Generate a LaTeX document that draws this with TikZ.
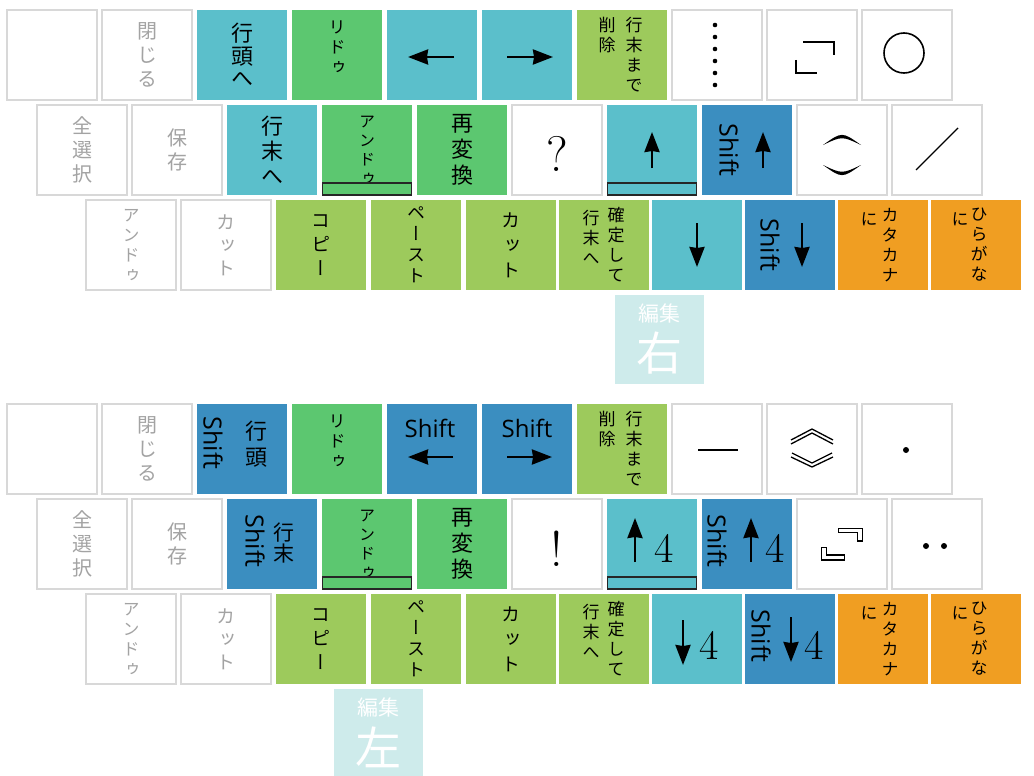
\documentclass[tikz,border=0pt]{standalone}
\usepackage{fontspec}
\newfontfamily\jp[RawFeature=+vert]{Noto Sans CJK JP}
\newfontfamily\jpflat{Noto Sans CJK JP}
\newfontfamily\shiftfont{Open Sans}
\usetikzlibrary{arrows.meta,positioning,calc}

\definecolor{keyteal}{HTML}{5BBFCB}
\definecolor{keygreen}{HTML}{5CC770}
\definecolor{keylime}{HTML}{9DCA5C}
\definecolor{keyblue}{HTML}{3B8EC0}
\definecolor{keyorange}{HTML}{F09E22}
\definecolor{keyedge}{HTML}{D8D8D8}
\definecolor{keygray}{HTML}{A3A3A3}
\definecolor{modecol}{HTML}{CEEBEB}

\begin{document}
\begin{tikzpicture}[x=1pt,y=-1pt,node distance=5pt,
  key/.style={rectangle,minimum width=90pt,minimum height=90pt,inner sep=0pt,outer sep=0pt,
              align=center,text=black,font=\jp\fontsize{22}{24}\selectfont},
  wkey/.style={key,draw=keyedge,line width=1.4pt,fill=white,text=keygray,
               font=\jp\fontsize{20}{24}\selectfont},
  tkey/.style={key,fill=keyteal},
  gkey/.style={key,fill=keygreen},
  ykey/.style={key,fill=keylime},
  bkey/.style={key,fill=keyblue},
  okey/.style={key,fill=keyorange},
  keybar/.style={rectangle,draw=black!85,line width=1.1pt,minimum width=89pt,minimum height=12pt,
                 inner sep=0pt,outer sep=0pt,anchor=south},
  kana/.style={inner sep=0pt,align=center,text=black,font=\jp\fontsize{17}{20}\selectfont},
  smallkana/.style={kana,font=\jp\fontsize{17}{20}\selectfont},
  shifttext/.style={inner sep=0pt,text=black,font=\shiftfont\fontsize{24}{24}\selectfont},
  shiftup/.style={shifttext,rotate=-90,font=\shiftfont\fontsize{25}{25}\selectfont},
  glyph/.style={inner sep=0pt,text=black,font=\fontsize{50}{50}\selectfont},
  digit/.style={inner sep=0pt,text=black,font=\fontsize{42}{42}\selectfont},
  keyarrow/.style={line width=2.6pt,-{Stealth[length=20pt,width=15pt,inset=1pt]}},
  symline/.style={line width=1.8pt},
  modebox/.style={rectangle,fill=modecol,minimum width=89pt,minimum height=89pt,inner sep=0pt},
  modetext/.style={inner sep=0pt,text=white,font=\jpflat\fontsize{21}{21}\selectfont},
  modebig/.style={inner sep=0pt,text=white,font=\jpflat\fontsize{46}{46}\selectfont}
]
\useasboundingbox (0,0) rectangle (1034,776);

% ===== EDIT MODE: RIGHT =====
% row 1
\node[wkey] (r1a) at (52,55) {};
\node[wkey,right=of r1a] (r1b) {閉\\じ\\る};
\node[tkey,right=of r1b,font=\jp\fontsize{22}{22.5}\selectfont] (r1c) {行\\頭\\へ};
\node[gkey,right=of r1c] (r1d) {};
\node[tkey,right=of r1d] (r1e) {};
\node[tkey,right=of r1e] (r1f) {};
\node[ykey,right=of r1f] (r1g) {};
\node[wkey,right=of r1g] (r1h) {};
\node[wkey,right=of r1h] (r1i) {};
\node[wkey,right=of r1i] (r1j) {};

\node[smallkana] (r1dt) at ($(r1d.center)+(0,-8)$) {リ\\ド\\ゥ};
\draw[keyarrow] ($(r1e.center)+(22,2)$) -- ($(r1e.center)+(-24,2)$);
\draw[keyarrow] ($(r1f.center)+(-20,2)$) -- ($(r1f.center)+(26,2)$);
\node[kana,anchor=north] (r1g1) at ($(r1g.north)+(12,7)$) {行\\末\\ま\\で};
\node[kana,anchor=north] (r1g2) at ($(r1g.north)+(-15,7)$) {削\\除};
\foreach \k in {0,...,5}
  \fill ($(r1h.center)+(-2,-30+12*\k)$) circle (2.3pt);
\begin{scope}[shift={(r1i.center)}]
  \draw[symline] (-9,-13) -- (22,-13) -- (22,0);
  \draw[symline] (-16,5) -- (-16,18) -- (5,18);
\end{scope}
\draw[line width=1.6pt] ($(r1j.center)+(-3,-2)$) circle (20pt);

% row 2
\node[wkey] (r2a) at (82,150) {全\\選\\択};
\node[wkey,right=of r2a] (r2b) {保\\存};
\node[tkey,right=of r2b,font=\jp\fontsize{22}{25}\selectfont] (r2c) {行\\末\\へ};
\node[gkey,right=of r2c,font=\jp\fontsize{16}{19}\selectfont] (r2d) {ア\\ン\\ド\\ゥ};
\node[gkey,right=of r2d,font=\jp\fontsize{22}{26}\selectfont] (r2e) {再\\変\\換};
\node[wkey,right=of r2e] (r2f) {};
\node[tkey,right=of r2f] (r2g) {};
\node[bkey,right=of r2g] (r2h) {};
\node[wkey,right=of r2h] (r2i) {};
\node[wkey,right=of r2i] (r2j) {};

\node[keybar] (r2dbar) at (r2d.south) {};
\node[keybar] (r2gbar) at (r2g.south) {};
\node[glyph] (r2fq) at ($(r2f.center)+(0,4)$) {?};
\draw[keyarrow] ($(r2g.center)+(0,18)$) -- ($(r2g.center)+(0,-18)$);
\node[shiftup] (r2hs) at ($(r2h.center)+(-18,0)$) {Shift};
\draw[keyarrow] ($(r2h.center)+(16,18)$) -- ($(r2h.center)+(16,-18)$);
\begin{scope}[shift={(r2i.center)}]
  \fill (-19,-5) .. controls (0,-18.5) .. (19,-5) .. controls (0,-14) .. (-19,-5) -- cycle;
  \fill (-19,15) .. controls (0,28.5) .. (19,15) .. controls (0,24) .. (-19,15) -- cycle;
\end{scope}
\draw[line width=1.4pt] ($(r2j.center)+(-21,20)$) -- ($(r2j.center)+(21,-22)$);

% row 3
\node[wkey,font=\jp\fontsize{17}{20}\selectfont] (r3a) at (131,245) {ア\\ン\\ド\\ゥ};
\node[wkey,right=of r3a,font=\jp\fontsize{19}{23}\selectfont] (r3b) {カ\\ッ\\ト};
\node[ykey,right=of r3b,font=\jp\fontsize{19}{24}\selectfont] (r3c) {コ\\ピ\\ー};
\node[ykey,right=of r3c,font=\jp\fontsize{18}{21}\selectfont] (r3d) {ペ\\ー\\ス\\ト};
\node[ykey,right=of r3d,font=\jp\fontsize{19}{25}\selectfont] (r3e) {カ\\ッ\\ト};
\node[ykey,right=3pt of r3e] (r3f) {};
\node[tkey,right=3pt of r3f] (r3g) {};
\node[bkey,right=3pt of r3g] (r3h) {};
\node[okey,right=3pt of r3h] (r3i) {};
\node[okey,right=3pt of r3i] (r3j) {};

\node[kana,anchor=north] (r3f1) at ($(r3f.north)+(12,7)$) {確\\定\\し\\て};
\node[kana,anchor=north] (r3f2) at ($(r3f.north)+(-13,10)$) {行\\末\\へ};
\draw[keyarrow] ($(r3g.center)+(0,-22)$) -- ($(r3g.center)+(0,22)$);
\node[shiftup] (r3hs) at ($(r3h.center)+(-20,0)$) {Shift};
\draw[keyarrow] ($(r3h.center)+(12,-22)$) -- ($(r3h.center)+(12,22)$);
\node[kana,anchor=north] (r3i1) at ($(r3i.north)+(7,8)$) {カ\\タ\\カ\\ナ};
\node[kana,anchor=north] (r3i2) at ($(r3i.north)+(-14,12)$) {に};
\node[kana,anchor=north] (r3j1) at ($(r3j.north)+(3,8)$) {ひ\\ら\\が\\な};
\node[kana,anchor=north] (r3j2) at ($(r3j.north)+(-16,12)$) {に};

\node[modebox] (rmode) at (659,339.5) {};
\node[modetext] (rmode1) at ($(rmode.center)+(0,-26)$) {編集};
\node[modebig] (rmode2) at ($(rmode.center)+(0,14)$) {右};

% ===== EDIT MODE: LEFT =====
% row 1
\node[wkey] (l1a) at (52,449) {};
\node[wkey,right=of l1a] (l1b) {閉\\じ\\る};
\node[bkey,right=of l1b] (l1c) {};
\node[gkey,right=of l1c] (l1d) {};
\node[bkey,right=of l1d] (l1e) {};
\node[bkey,right=of l1e] (l1f) {};
\node[ykey,right=of l1f] (l1g) {};
\node[wkey,right=of l1g] (l1h) {};
\node[wkey,right=of l1h] (l1i) {};
\node[wkey,right=of l1i] (l1j) {};

\node[shiftup] (l1cs) at ($(l1c.center)+(-29,-6)$) {Shift};
\node[kana,font=\jp\fontsize{22}{26}\selectfont] (l1ct) at ($(l1c.center)+(14,-5)$) {行\\頭};
\node[smallkana] (l1dt) at ($(l1d.center)+(0,-8)$) {リ\\ド\\ゥ};
\node[shifttext] (l1es) at ($(l1e.center)+(-2,-21)$) {Shift};
\draw[keyarrow] ($(l1e.center)+(21,8)$) -- ($(l1e.center)+(-24,8)$);
\node[shifttext] (l1fs) at ($(l1f.center)+(0,-21)$) {Shift};
\draw[keyarrow] ($(l1f.center)+(-20,8)$) -- ($(l1f.center)+(25,8)$);
\node[kana,anchor=north] (l1g1) at ($(l1g.north)+(12,7)$) {行\\末\\ま\\で};
\node[kana,anchor=north] (l1g2) at ($(l1g.north)+(-15,7)$) {削\\除};
\draw[symline] ($(l1h.center)+(-19,1)$) -- ($(l1h.center)+(21,1)$);
\begin{scope}[shift={(l1i.center)},line width=1.3pt]
  \draw (-21,-9) -- (0,-20) -- (21,-9);
  \draw (-21,-5) -- (0,-16) -- (21,-5);
  \draw (-20,4) -- (0,14) -- (20,4);
  \draw (-21,8) -- (0,18) -- (21,8);
\end{scope}
\fill ($(l1j.center)+(-1,1)$) circle (3pt);

% row 2
\node[wkey] (l2a) at (82,544) {全\\選\\択};
\node[wkey,right=of l2a] (l2b) {保\\存};
\node[bkey,right=of l2b] (l2c) {};
\node[gkey,right=of l2c,font=\jp\fontsize{16}{19}\selectfont] (l2d) {ア\\ン\\ド\\ゥ};
\node[gkey,right=of l2d,font=\jp\fontsize{22}{26}\selectfont] (l2e) {再\\変\\換};
\node[wkey,right=of l2e] (l2f) {};
\node[tkey,right=of l2f] (l2g) {};
\node[bkey,right=of l2g] (l2h) {};
\node[wkey,right=of l2h] (l2i) {};
\node[wkey,right=of l2i] (l2j) {};

\node[keybar] (l2dbar) at (l2d.south) {};
\node[keybar] (l2gbar) at (l2g.south) {};
\node[shiftup] (l2cs) at ($(l2c.center)+(-17,-3)$) {Shift};
\node[kana,font=\jp\fontsize{21}{21}\selectfont] (l2ct) at ($(l2c.center)+(12,-1)$) {行\\末};
\node[glyph] (l2fx) at ($(l2f.center)+(0,5)$) {!};
\draw[keyarrow] ($(l2g.center)+(-17,18)$) -- ($(l2g.center)+(-17,-26)$);
\node[digit] (l2g4) at ($(l2g.center)+(12,4.5)$) {4};
\node[shiftup] (l2hs) at ($(l2h.center)+(-30,-3)$) {Shift};
\draw[keyarrow] ($(l2h.center)+(4,18)$) -- ($(l2h.center)+(4,-26)$);
\node[digit] (l2h4) at ($(l2h.center)+(28,4.5)$) {4};
\begin{scope}[shift={(l2i.center)},line width=1.3pt]
  \draw (-3.3,-15.7) -- (20.3,-15.7) -- (20.3,-3) -- (15.3,-3) -- (15.3,-11.7) -- (-3.3,-11.7) -- cycle;
  \draw (-20.7,3.7) -- (-15.7,3.7) -- (-15.7,11) -- (2.7,11) -- (2.7,16) -- (-20.7,16) -- cycle;
\end{scope}
\fill ($(l2j.center)+(-11,2)$) circle (3pt);
\fill ($(l2j.center)+(7,2)$) circle (3pt);

% row 3
\node[wkey,font=\jp\fontsize{17}{20}\selectfont] (l3a) at (131,639) {ア\\ン\\ド\\ゥ};
\node[wkey,right=of l3a,font=\jp\fontsize{19}{23}\selectfont] (l3b) {カ\\ッ\\ト};
\node[ykey,right=of l3b,font=\jp\fontsize{19}{24}\selectfont] (l3c) {コ\\ピ\\ー};
\node[ykey,right=of l3c,font=\jp\fontsize{18}{21}\selectfont] (l3d) {ペ\\ー\\ス\\ト};
\node[ykey,right=of l3d,font=\jp\fontsize{19}{25}\selectfont] (l3e) {カ\\ッ\\ト};
\node[ykey,right=3pt of l3e] (l3f) {};
\node[tkey,right=3pt of l3f] (l3g) {};
\node[bkey,right=3pt of l3g] (l3h) {};
\node[okey,right=3pt of l3h] (l3i) {};
\node[okey,right=3pt of l3i] (l3j) {};

\node[kana,anchor=north] (l3f1) at ($(l3f.north)+(12,7)$) {確\\定\\し\\て};
\node[kana,anchor=north] (l3f2) at ($(l3f.north)+(-13,10)$) {行\\末\\へ};
\draw[keyarrow] ($(l3g.center)+(-14,-19)$) -- ($(l3g.center)+(-14,26)$);
\node[digit] (l3g4) at ($(l3g.center)+(12,6)$) {4};
\node[shiftup] (l3hs) at ($(l3h.center)+(-29,-3)$) {Shift};
\draw[keyarrow] ($(l3h.center)+(1,-22)$) -- ($(l3h.center)+(1,23)$);
\node[digit] (l3h4) at ($(l3h.center)+(24,6)$) {4};
\node[kana,anchor=north] (l3i1) at ($(l3i.north)+(7,8)$) {カ\\タ\\カ\\ナ};
\node[kana,anchor=north] (l3i2) at ($(l3i.north)+(-14,12)$) {に};
\node[kana,anchor=north] (l3j1) at ($(l3j.north)+(3,8)$) {ひ\\ら\\が\\な};
\node[kana,anchor=north] (l3j2) at ($(l3j.north)+(-16,12)$) {に};

\node[modebox] (lmode) at (378.5,733.5) {};
\node[modetext] (lmode1) at ($(lmode.center)+(0,-26)$) {編集};
\node[modebig] (lmode2) at ($(lmode.center)+(0,14)$) {左};

\end{tikzpicture}
\end{document}
